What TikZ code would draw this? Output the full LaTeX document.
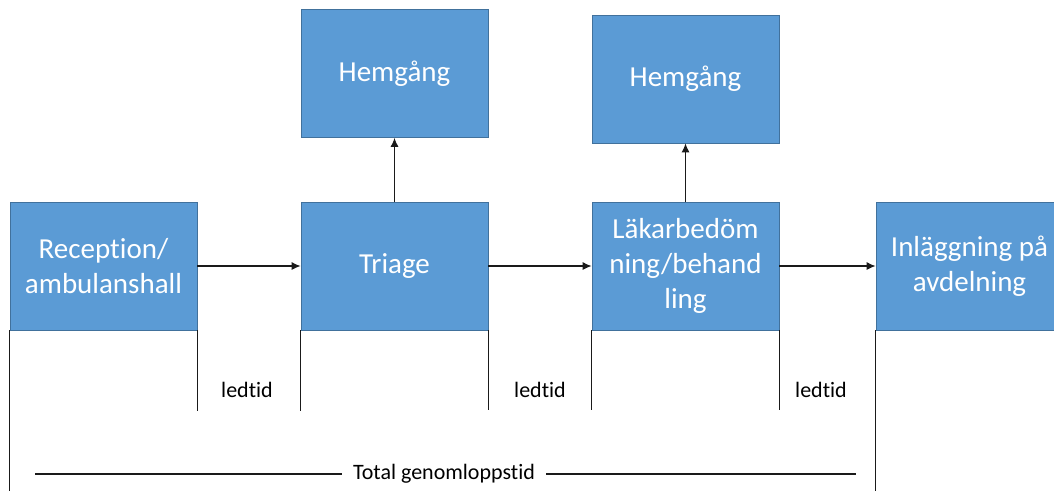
\documentclass[tikz,border=0pt]{standalone}
\usepackage{fontspec}
\setmainfont[Ligatures=NoCommon]{Carlito}
\usetikzlibrary{arrows.meta}
\definecolor{boxfill}{HTML}{5B9BD5}
\definecolor{boxedge}{HTML}{41719C}
\definecolor{linegray}{HTML}{1A1A1A}
\tikzset{
  stage/.style={rectangle, fill=boxfill, draw=boxedge, line width=0.8pt,
    minimum width=187pt, minimum height=128pt, inner sep=2pt,
    text=white, align=center, font=\fontsize{29}{35}\selectfont},
  flow/.style={draw=linegray, line width=1.1pt, -{Latex[length=9pt,width=8pt]}},
  guide/.style={draw=linegray, line width=1.1pt},
  note/.style={text=black, font=\fontsize{22}{26}\selectfont}
}
\begin{document}
\begin{tikzpicture}[x=1pt,y=-1pt]
\useasboundingbox (0,0) rectangle (1054,491);
\clip (0,0) rectangle (1054,491);
\fill[white] (0,0) rectangle (1054,491);

% main chain of stages
\node[stage] (rec) at (103.5,266) {Reception/\\ambulanshall};
\node[stage] (tri) at (394.5,266) {Triage};
\node[stage] (lak) at (685.5,266) {Läkarbedöm\\ning/behand\\ling};
\node[stage] (inl) at (969.5,266) {Inläggning på\\avdelning};

% discharge boxes
\node[stage] (hem1) at (394.5,73.5) {Hemgång};
\node[stage] (hem2) at (685.5,79) {Hemgång};

% flow arrows
\draw[flow] (rec.east) -- (tri.west);
\draw[flow] (tri.east) -- (lak.west);
\draw[flow] (lak.east) -- (inl.west);
\draw[flow] (tri.north) -- (hem1.south);
\draw[flow] (lak.north) -- (hem2.south);

% lead-time brackets under the stages
\coordinate (r1) at (rec.south west |- 0,491);
\coordinate (r2) at (rec.south east |- 0,411);
\coordinate (t1) at (tri.south west |- 0,411);
\coordinate (t2) at (tri.south east |- 0,410);
\coordinate (l1) at (lak.south west |- 0,410);
\coordinate (l2) at (lak.south east |- 0,410);
\coordinate (i1) at (inl.south west |- 0,491);
\draw[guide] (rec.south west) -- (r1);
\draw[guide] (rec.south east) -- (r2);
\draw[guide] (tri.south west) -- (t1);
\draw[guide] (tri.south east) -- (t2);
\draw[guide] (lak.south west) -- (l1);
\draw[guide] (lak.south east) -- (l2);
\draw[guide] (inl.south west) -- (i1);

\node[note] (lt1) at (247,390) {ledtid};
\node[note] (lt2) at (540,390) {ledtid};
\node[note] (lt3) at (821,390) {ledtid};

% total throughput time
\node[note, inner xsep=11pt] (tot) at (444,474) {Total genomloppstid};
\coordinate (tl) at (35,474);
\coordinate (tr) at (856,474);
\draw[guide] (tl) -- (tot.west);
\draw[guide] (tot.east) -- (tr);
\end{tikzpicture}
\end{document}
